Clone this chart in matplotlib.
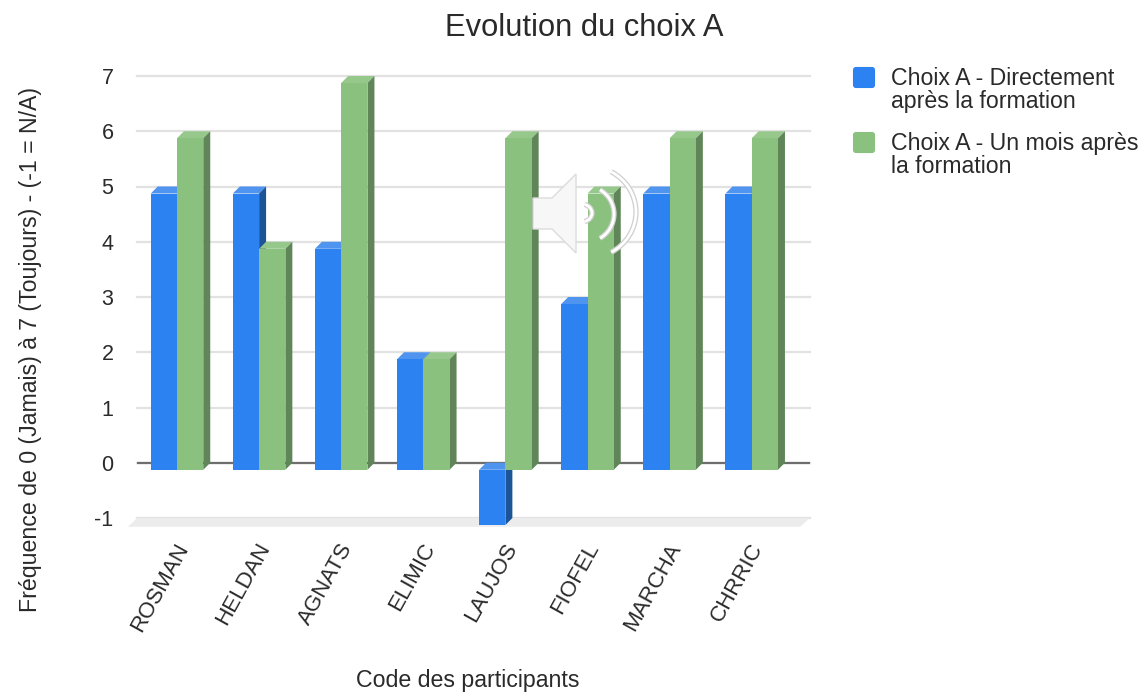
import matplotlib
matplotlib.use('Agg')
import matplotlib.pyplot as plt
from matplotlib.patches import Arc, FancyBboxPatch, Polygon
import matplotlib.patheffects as pe
import numpy as np

plt.rcParams['font.family'] = ['Liberation Sans', 'DejaVu Sans']

participants = ['ROSMAN', 'HELDAN', 'AGNATS', 'ELIMIC', 'LAUJOS', 'FIOFEL', 'MARCHA', 'CHRRIC']
direct = [5, 5, 4, 2, -1, 3, 5, 5]
one_month = [6, 4, 7, 2, 6, 5, 6, 6]
y_ticks = [-1, 0, 1, 2, 3, 4, 5, 6, 7]

W, H = 1146, 692
text_col = '#2a2a2a'
BLUE = ('#2b82f0', '#4f94ee', '#1c5498')
GREEN = ('#8bc17f', '#96c78b', '#5f8558')

# depth of the fake 3d effect, in data units
dx = 0.085
dy = 0.127
bar_w = 0.32
band = 82.1


def bar3d(ax, x0, val, cols):
    front, top, side = cols
    lo, hi = min(val, 0), max(val, 0)
    x1 = x0 + bar_w
    ax.fill([x0, x1, x1 + dx, x0 + dx], [hi - dy, hi - dy, hi, hi], color=top, lw=0, zorder=3, clip_on=False)
    ax.fill([x1, x1 + dx, x1 + dx, x1], [hi - dy, hi, lo, lo - dy], color=side, lw=0, zorder=3, clip_on=False)
    ax.bar(x0, hi - lo, bottom=lo - dy, width=bar_w, align='edge', color=front, lw=0, zorder=3, clip_on=False)


fig = plt.figure(figsize=(W / 100, H / 100), dpi=100)
ax = fig.add_axes([137 / W, 1 - 518 / H, (810 - 137) / W, (518 - 76) / H])
ax.set_xlim((137 - 177) / band, (810 - 177) / band)
ax.set_ylim(-1, 7)
for s in ax.spines.values():
    s.set_visible(False)

ax.set_axisbelow(True)
ax.set_yticks(y_ticks)
ax.set_yticklabels([str(v) for v in y_ticks], fontsize=15.5, color=text_col)
ax.tick_params(axis='y', length=0, pad=17)
ax.grid(axis='y', color='#e2e2e2', lw=1.6)
for gl in ax.get_ygridlines():
    gl.set_clip_on(False)
ax.axhline(0, color='#6e6e6e', lw=1.6, zorder=2)

# floor of the 3d plot
x_a, x_b = ax.get_xlim()
ax.fill([x_a, x_b, x_b - 0.12, x_a - 0.11], [-1, -1, -1 - dy * 1.25, -1 - dy * 1.25],
        color='#ececec', lw=0, zorder=1, clip_on=False)

for i in range(len(participants)):
    bar3d(ax, i - bar_w, direct[i], BLUE)
    bar3d(ax, i, one_month[i], GREEN)

ax.set_xticks(np.arange(len(participants)) + 0.08)
ax.set_xticklabels(participants, fontsize=16, color=text_col, rotation=61, ha='right',
                   va='center', rotation_mode='anchor')
ax.tick_params(axis='x', length=0, pad=19)

# overlay in pixel coordinates: title, axis names, legend, speaker icon
ov = fig.add_axes([0, 0, 1, 1], facecolor='none')
ov.set_xlim(0, W)
ov.set_ylim(H, 0)
ov.axis('off')

ov.text(584, 28, 'Evolution du choix A', fontsize=22.2, color=text_col, ha='center', va='center')
ov.text(468, 680, 'Code des participants', fontsize=16.7, color=text_col, ha='center', va='center')
ov.text(31, 350, 'Fréquence de 0 (Jamais) à 7 (Toujours) - (-1 = N/A)', fontsize=16.7, color=text_col,
        rotation=90, ha='center', va='center')

for y0, col, lab in [(66, BLUE[0], 'Choix A - Directement\naprès la formation'),
                     (131, GREEN[0], 'Choix A - Un mois après\nla formation')]:
    ov.add_patch(FancyBboxPatch((854, y0 + 2), 20, 19, boxstyle='round,pad=0,rounding_size=2',
                                mutation_aspect=1, fc=col, ec=col, lw=1.5))
    ov.text(891, y0 + 24, lab, fontsize=16.7, color=text_col, ha='left', va='center', linespacing=0.95)

# speaker icon sitting on top of the chart
ov.add_patch(Polygon([(533, 198), (552, 198), (576, 174), (576, 253), (552, 229), (533, 229)],
                     fc='#f7f7f7', ec='#dcdcdc', lw=1, zorder=5))
halo = [pe.Stroke(linewidth=3.8, foreground='#cfcfcf'), pe.Normal()]
for cx, cy, w, h, a in [(581.5, 213, 21, 18, 70), (586, 214, 56, 56, 60), (588, 212, 96, 92, 60)]:
    arc = Arc((cx, cy), w, h, theta1=-a, theta2=a, color='white', lw=2, zorder=5)
    arc.set_path_effects(halo)
    ov.add_patch(arc)

fig.savefig('out.png', dpi=100)
